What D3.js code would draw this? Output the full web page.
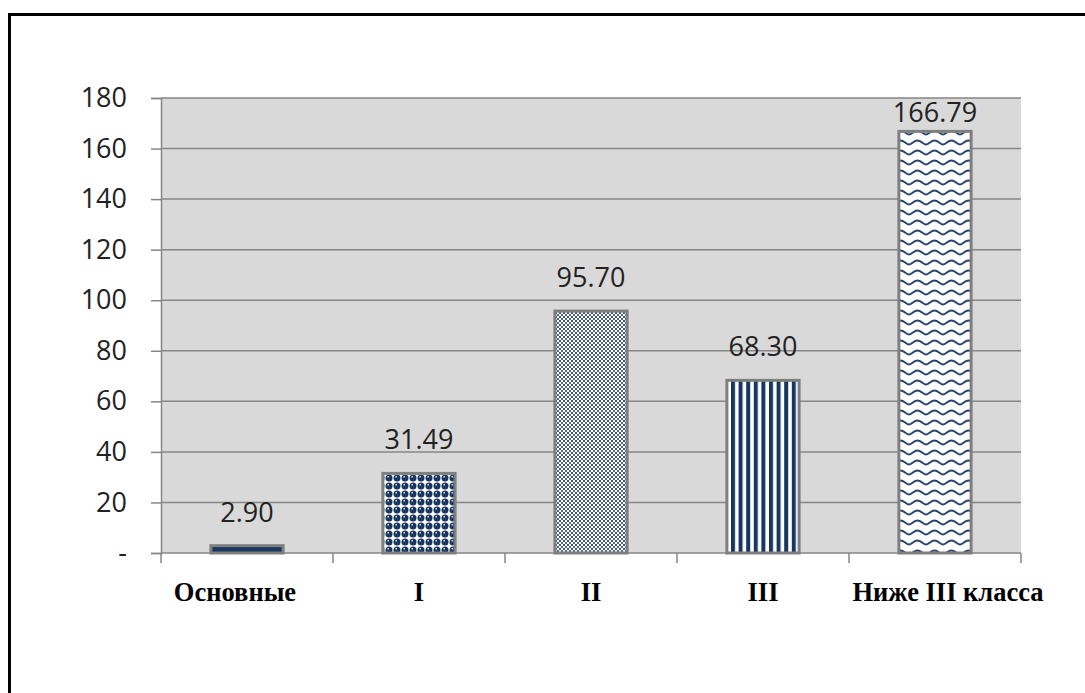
<!DOCTYPE html>
<html>
<head>
<meta charset="utf-8">
<script src="https://cdn.jsdelivr.net/npm/d3@7"></script>
<style>
  body { margin: 0; background: #fff; }
  svg { display: block; }
</style>
</head>
<body>
<div id="chart"></div>
<script>
// data
const categories = ["Основные", "I", "II", "III", "Ниже III класса"];
const values = [2.90, 31.49, 95.70, 68.30, 166.79];
const patternIds = ["solid", "dots", "grid", "stripes", "waves"];
const yTicks = [0, 20, 40, 60, 80, 100, 120, 140, 160, 180];

const W = 1085, H = 693;
const margin = { top: 98, left: 161, width: 860, height: 455 };
const navy = "#17375e";

const svg = d3.select("#chart").append("svg")
    .attr("width", W)
    .attr("height", H);

// patterns
const defs = svg.append("defs");

let p = defs.append("pattern").attr("id", "solid")
    .attr("patternUnits", "userSpaceOnUse").attr("width", 4).attr("height", 4);
p.append("rect").attr("width", 4).attr("height", 4).attr("fill", navy);

p = defs.append("pattern").attr("id", "dots")
    .attr("patternUnits", "userSpaceOnUse").attr("width", 8).attr("height", 8);
p.append("rect").attr("width", 8).attr("height", 8).attr("fill", "#fff");
p.append("circle").attr("cx", 4).attr("cy", 4).attr("r", 3.5).attr("fill", navy);
p.append("rect").attr("x", 2.4).attr("y", 2.2).attr("width", 1.6).attr("height", 1.2).attr("fill", "#fff");

p = defs.append("pattern").attr("id", "grid")
    .attr("patternUnits", "userSpaceOnUse").attr("width", 4).attr("height", 4);
p.append("rect").attr("width", 4).attr("height", 4).attr("fill", "#fff");
p.append("rect").attr("x", 0).attr("y", 0).attr("width", 2).attr("height", 2).attr("fill", "#3d5378");
p.append("rect").attr("x", 2).attr("y", 2).attr("width", 2).attr("height", 2).attr("fill", "#3d5378");
p.append("rect").attr("x", 0.6).attr("y", 0.6).attr("width", 0.8).attr("height", 0.8).attr("fill", "#b8c0cc");

p = defs.append("pattern").attr("id", "stripes")
    .attr("patternUnits", "userSpaceOnUse").attr("width", 7.6).attr("height", 4);
p.append("rect").attr("width", 7.6).attr("height", 4).attr("fill", "#fff");
p.append("rect").attr("x", 0).attr("width", 4).attr("height", 4).attr("fill", navy);

p = defs.append("pattern").attr("id", "waves")
    .attr("patternUnits", "userSpaceOnUse").attr("width", 17).attr("height", 10);
p.append("rect").attr("width", 17).attr("height", 10).attr("fill", "#fff");
p.append("path")
    .attr("d", "M0,6.5 C2.5,6.5 5,2.5 8.5,2.5 C12,2.5 14.5,6.5 17,6.5")
    .attr("fill", "none").attr("stroke", "#2a4670").attr("stroke-width", 2);

// outer frame
svg.append("rect")
    .attr("x", 9.5).attr("y", 14.5)
    .attr("width", 1200).attr("height", 800)
    .attr("fill", "none")
    .attr("stroke", "#000")
    .attr("stroke-width", 3);

const g = svg.append("g")
    .attr("transform", `translate(${margin.left}, ${margin.top})`);

// scales
const x = d3.scaleBand()
    .domain(categories)
    .range([0, margin.width])
    .paddingInner(0.58)
    .paddingOuter(0.29);

const xCells = d3.scaleBand()
    .domain(categories)
    .range([0, margin.width]);

const y = d3.scaleLinear()
    .domain([0, 180])
    .range([margin.height, 0]);

// plot area
g.append("rect")
    .attr("width", margin.width)
    .attr("height", margin.height)
    .attr("fill", "#d9d9d9");

// gridlines
g.append("g")
    .selectAll("line")
    .data(yTicks.slice(1))
    .join("line")
    .attr("x1", 0).attr("x2", margin.width)
    .attr("y1", d => y(d)).attr("y2", d => y(d))
    .attr("stroke", "#868686")
    .attr("stroke-width", 1.5);

// y axis
const yAxis = g.append("g")
    .call(d3.axisLeft(y).tickValues(yTicks).tickSize(10).tickPadding(24)
        .tickFormat(d => d === 0 ? "-" : d));
yAxis.select(".domain").attr("stroke", "#868686").attr("stroke-width", 1.5);
yAxis.selectAll(".tick line").attr("stroke", "#868686").attr("stroke-width", 1.5);
yAxis.selectAll("text")
    .attr("fill", "#222")
    .style("font-family", "'Open Sans', sans-serif")
    .style("font-size", "27px");

// x axis
const xAxis = g.append("g")
    .attr("transform", `translate(0, ${margin.height})`);
xAxis.append("line")
    .attr("x1", 0).attr("x2", margin.width)
    .attr("stroke", "#868686").attr("stroke-width", 1.5);
xAxis.selectAll(".xtick")
    .data(categories.concat(["end"]))
    .join("line")
    .attr("class", "xtick")
    .attr("x1", (d, i) => i < categories.length ? xCells(d) : margin.width)
    .attr("x2", (d, i) => i < categories.length ? xCells(d) : margin.width)
    .attr("y1", 0).attr("y2", 10)
    .attr("stroke", "#868686").attr("stroke-width", 1.5);
xAxis.selectAll(".xlabel")
    .data(categories)
    .join("text")
    .attr("class", "xlabel")
    .attr("x", (d, i) => xCells(d) + xCells.bandwidth() / 2
        + (i === 0 ? -12 : i === categories.length - 1 ? 13 : 0))
    .attr("y", 48)
    .attr("text-anchor", "middle")
    .style("font-family", "'Liberation Serif', 'Times New Roman', serif")
    .style("font-weight", "bold")
    .style("font-size", "26.5px")
    .attr("fill", "#000")
    .text(d => d);

// bars
g.selectAll(".bar")
    .data(categories)
    .join("rect")
    .attr("class", "bar")
    .attr("x", d => x(d))
    .attr("y", (d, i) => y(values[i]))
    .attr("width", x.bandwidth())
    .attr("height", (d, i) => margin.height - y(values[i]))
    .attr("fill", (d, i) => `url(#${patternIds[i]})`)
    .attr("stroke", "#7f7f7f")
    .attr("stroke-width", 3);

// data labels (kept inside the plot area, as the original does)
g.selectAll(".val")
    .data(categories)
    .join("text")
    .attr("class", "val")
    .attr("x", d => x(d) + x.bandwidth() / 2)
    .attr("y", (d, i) => Math.max(y(values[i]) - 24, 24))
    .attr("text-anchor", "middle")
    .style("font-family", "'Open Sans', sans-serif")
    .style("font-size", "27px")
    .attr("fill", "#222")
    .text((d, i) => values[i].toFixed(2));
</script>
</body>
</html>
